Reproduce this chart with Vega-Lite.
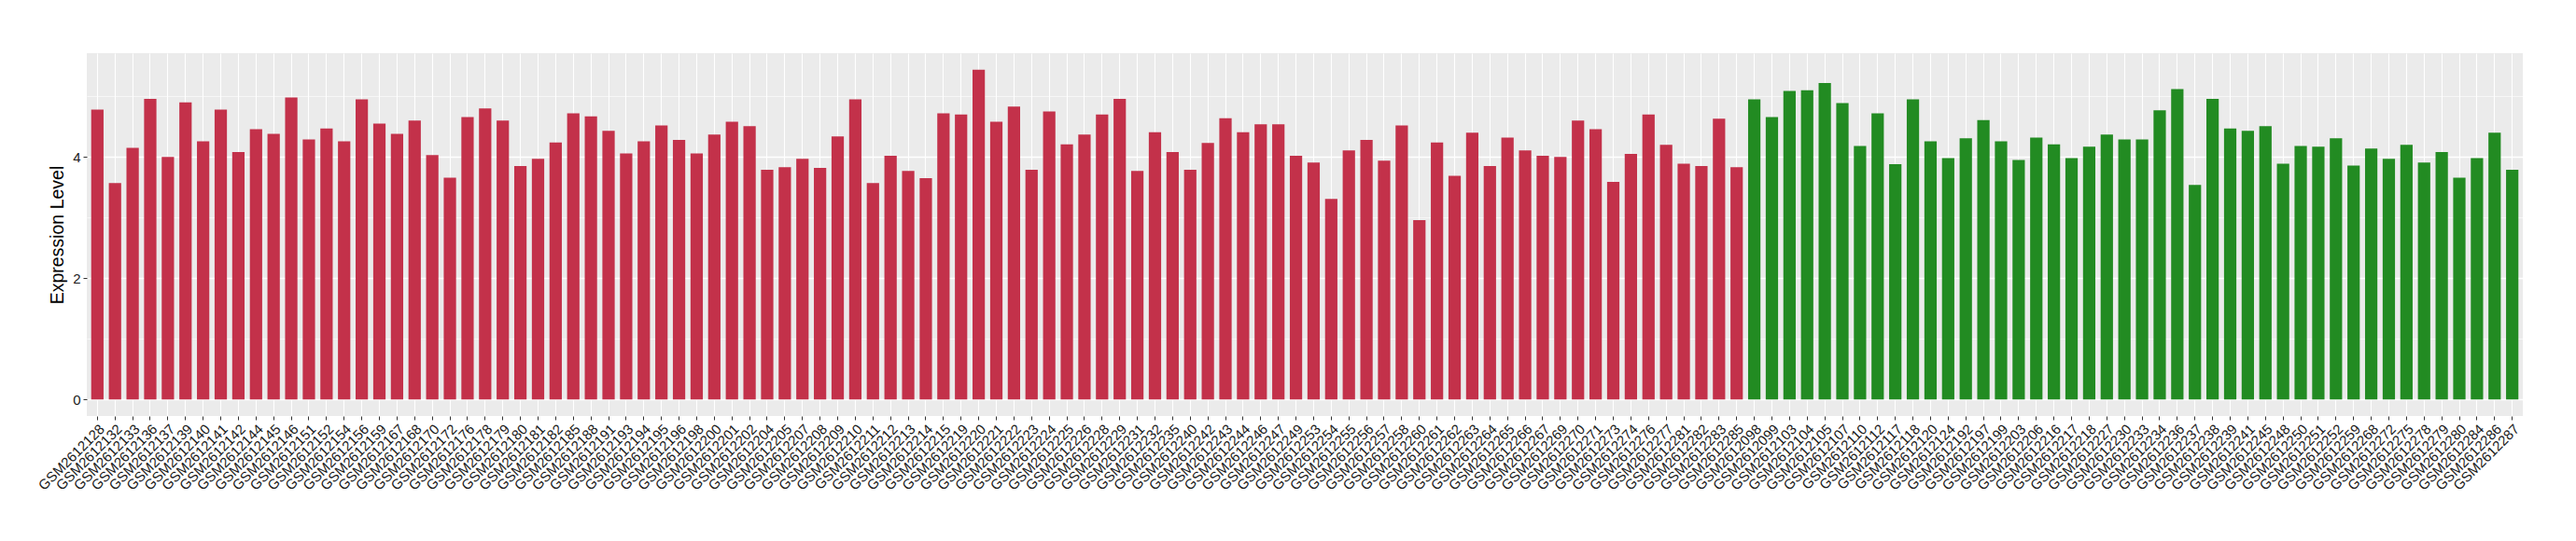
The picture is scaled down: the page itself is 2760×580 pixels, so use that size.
{
  "$schema": "https://vega.github.io/schema/vega-lite/v6.json",
  "autosize": "none",
  "width": 2610,
  "height": 389,
  "padding": {"left": 93, "top": 57, "right": 57, "bottom": 134},
  "background": "white",
  "config": {
    "font": "Liberation Sans",
    "view": {"fill": "#EBEBEB", "stroke": null}
  },
  "data": {
    "values": [
      {"sample": "GSM2612128", "value": 4.78, "group": "A"},
      {"sample": "GSM2612132", "value": 3.57, "group": "A"},
      {"sample": "GSM2612133", "value": 4.15, "group": "A"},
      {"sample": "GSM2612136", "value": 4.96, "group": "A"},
      {"sample": "GSM2612137", "value": 4.00, "group": "A"},
      {"sample": "GSM2612139", "value": 4.90, "group": "A"},
      {"sample": "GSM2612140", "value": 4.26, "group": "A"},
      {"sample": "GSM2612141", "value": 4.78, "group": "A"},
      {"sample": "GSM2612142", "value": 4.08, "group": "A"},
      {"sample": "GSM2612144", "value": 4.46, "group": "A"},
      {"sample": "GSM2612145", "value": 4.38, "group": "A"},
      {"sample": "GSM2612146", "value": 4.98, "group": "A"},
      {"sample": "GSM2612151", "value": 4.29, "group": "A"},
      {"sample": "GSM2612152", "value": 4.47, "group": "A"},
      {"sample": "GSM2612154", "value": 4.26, "group": "A"},
      {"sample": "GSM2612156", "value": 4.95, "group": "A"},
      {"sample": "GSM2612159", "value": 4.55, "group": "A"},
      {"sample": "GSM2612167", "value": 4.38, "group": "A"},
      {"sample": "GSM2612168", "value": 4.60, "group": "A"},
      {"sample": "GSM2612170", "value": 4.03, "group": "A"},
      {"sample": "GSM2612172", "value": 3.66, "group": "A"},
      {"sample": "GSM2612176", "value": 4.66, "group": "A"},
      {"sample": "GSM2612178", "value": 4.80, "group": "A"},
      {"sample": "GSM2612179", "value": 4.60, "group": "A"},
      {"sample": "GSM2612180", "value": 3.85, "group": "A"},
      {"sample": "GSM2612181", "value": 3.97, "group": "A"},
      {"sample": "GSM2612182", "value": 4.24, "group": "A"},
      {"sample": "GSM2612185", "value": 4.72, "group": "A"},
      {"sample": "GSM2612188", "value": 4.67, "group": "A"},
      {"sample": "GSM2612191", "value": 4.43, "group": "A"},
      {"sample": "GSM2612193", "value": 4.06, "group": "A"},
      {"sample": "GSM2612194", "value": 4.26, "group": "A"},
      {"sample": "GSM2612195", "value": 4.52, "group": "A"},
      {"sample": "GSM2612196", "value": 4.28, "group": "A"},
      {"sample": "GSM2612198", "value": 4.06, "group": "A"},
      {"sample": "GSM2612200", "value": 4.37, "group": "A"},
      {"sample": "GSM2612201", "value": 4.58, "group": "A"},
      {"sample": "GSM2612202", "value": 4.51, "group": "A"},
      {"sample": "GSM2612204", "value": 3.79, "group": "A"},
      {"sample": "GSM2612205", "value": 3.83, "group": "A"},
      {"sample": "GSM2612207", "value": 3.97, "group": "A"},
      {"sample": "GSM2612208", "value": 3.82, "group": "A"},
      {"sample": "GSM2612209", "value": 4.34, "group": "A"},
      {"sample": "GSM2612210", "value": 4.95, "group": "A"},
      {"sample": "GSM2612211", "value": 3.57, "group": "A"},
      {"sample": "GSM2612212", "value": 4.02, "group": "A"},
      {"sample": "GSM2612213", "value": 3.77, "group": "A"},
      {"sample": "GSM2612214", "value": 3.65, "group": "A"},
      {"sample": "GSM2612215", "value": 4.72, "group": "A"},
      {"sample": "GSM2612219", "value": 4.70, "group": "A"},
      {"sample": "GSM2612220", "value": 5.44, "group": "A"},
      {"sample": "GSM2612221", "value": 4.58, "group": "A"},
      {"sample": "GSM2612222", "value": 4.83, "group": "A"},
      {"sample": "GSM2612223", "value": 3.79, "group": "A"},
      {"sample": "GSM2612224", "value": 4.75, "group": "A"},
      {"sample": "GSM2612225", "value": 4.21, "group": "A"},
      {"sample": "GSM2612226", "value": 4.37, "group": "A"},
      {"sample": "GSM2612228", "value": 4.70, "group": "A"},
      {"sample": "GSM2612229", "value": 4.96, "group": "A"},
      {"sample": "GSM2612231", "value": 3.77, "group": "A"},
      {"sample": "GSM2612232", "value": 4.41, "group": "A"},
      {"sample": "GSM2612235", "value": 4.08, "group": "A"},
      {"sample": "GSM2612240", "value": 3.79, "group": "A"},
      {"sample": "GSM2612242", "value": 4.23, "group": "A"},
      {"sample": "GSM2612243", "value": 4.64, "group": "A"},
      {"sample": "GSM2612244", "value": 4.41, "group": "A"},
      {"sample": "GSM2612246", "value": 4.54, "group": "A"},
      {"sample": "GSM2612247", "value": 4.54, "group": "A"},
      {"sample": "GSM2612249", "value": 4.02, "group": "A"},
      {"sample": "GSM2612253", "value": 3.91, "group": "A"},
      {"sample": "GSM2612254", "value": 3.31, "group": "A"},
      {"sample": "GSM2612255", "value": 4.11, "group": "A"},
      {"sample": "GSM2612256", "value": 4.28, "group": "A"},
      {"sample": "GSM2612257", "value": 3.94, "group": "A"},
      {"sample": "GSM2612258", "value": 4.52, "group": "A"},
      {"sample": "GSM2612260", "value": 2.96, "group": "A"},
      {"sample": "GSM2612261", "value": 4.24, "group": "A"},
      {"sample": "GSM2612262", "value": 3.69, "group": "A"},
      {"sample": "GSM2612263", "value": 4.40, "group": "A"},
      {"sample": "GSM2612264", "value": 3.85, "group": "A"},
      {"sample": "GSM2612265", "value": 4.32, "group": "A"},
      {"sample": "GSM2612266", "value": 4.11, "group": "A"},
      {"sample": "GSM2612267", "value": 4.02, "group": "A"},
      {"sample": "GSM2612269", "value": 4.00, "group": "A"},
      {"sample": "GSM2612270", "value": 4.60, "group": "A"},
      {"sample": "GSM2612271", "value": 4.46, "group": "A"},
      {"sample": "GSM2612273", "value": 3.59, "group": "A"},
      {"sample": "GSM2612274", "value": 4.05, "group": "A"},
      {"sample": "GSM2612276", "value": 4.70, "group": "A"},
      {"sample": "GSM2612277", "value": 4.20, "group": "A"},
      {"sample": "GSM2612281", "value": 3.89, "group": "A"},
      {"sample": "GSM2612282", "value": 3.85, "group": "A"},
      {"sample": "GSM2612283", "value": 4.63, "group": "A"},
      {"sample": "GSM2612285", "value": 3.83, "group": "A"},
      {"sample": "GSM2612098", "value": 4.95, "group": "B"},
      {"sample": "GSM2612099", "value": 4.66, "group": "B"},
      {"sample": "GSM2612103", "value": 5.09, "group": "B"},
      {"sample": "GSM2612104", "value": 5.10, "group": "B"},
      {"sample": "GSM2612105", "value": 5.22, "group": "B"},
      {"sample": "GSM2612107", "value": 4.89, "group": "B"},
      {"sample": "GSM2612110", "value": 4.18, "group": "B"},
      {"sample": "GSM2612112", "value": 4.72, "group": "B"},
      {"sample": "GSM2612117", "value": 3.88, "group": "B"},
      {"sample": "GSM2612118", "value": 4.95, "group": "B"},
      {"sample": "GSM2612120", "value": 4.26, "group": "B"},
      {"sample": "GSM2612124", "value": 3.98, "group": "B"},
      {"sample": "GSM2612192", "value": 4.31, "group": "B"},
      {"sample": "GSM2612197", "value": 4.61, "group": "B"},
      {"sample": "GSM2612199", "value": 4.26, "group": "B"},
      {"sample": "GSM2612203", "value": 3.95, "group": "B"},
      {"sample": "GSM2612206", "value": 4.32, "group": "B"},
      {"sample": "GSM2612216", "value": 4.21, "group": "B"},
      {"sample": "GSM2612217", "value": 3.98, "group": "B"},
      {"sample": "GSM2612218", "value": 4.17, "group": "B"},
      {"sample": "GSM2612227", "value": 4.37, "group": "B"},
      {"sample": "GSM2612230", "value": 4.29, "group": "B"},
      {"sample": "GSM2612233", "value": 4.29, "group": "B"},
      {"sample": "GSM2612234", "value": 4.77, "group": "B"},
      {"sample": "GSM2612236", "value": 5.12, "group": "B"},
      {"sample": "GSM2612237", "value": 3.54, "group": "B"},
      {"sample": "GSM2612238", "value": 4.96, "group": "B"},
      {"sample": "GSM2612239", "value": 4.47, "group": "B"},
      {"sample": "GSM2612241", "value": 4.43, "group": "B"},
      {"sample": "GSM2612245", "value": 4.51, "group": "B"},
      {"sample": "GSM2612248", "value": 3.89, "group": "B"},
      {"sample": "GSM2612250", "value": 4.18, "group": "B"},
      {"sample": "GSM2612251", "value": 4.17, "group": "B"},
      {"sample": "GSM2612252", "value": 4.31, "group": "B"},
      {"sample": "GSM2612259", "value": 3.86, "group": "B"},
      {"sample": "GSM2612268", "value": 4.14, "group": "B"},
      {"sample": "GSM2612272", "value": 3.97, "group": "B"},
      {"sample": "GSM2612275", "value": 4.20, "group": "B"},
      {"sample": "GSM2612278", "value": 3.91, "group": "B"},
      {"sample": "GSM2612279", "value": 4.08, "group": "B"},
      {"sample": "GSM2612280", "value": 3.66, "group": "B"},
      {"sample": "GSM2612284", "value": 3.98, "group": "B"},
      {"sample": "GSM2612286", "value": 4.40, "group": "B"},
      {"sample": "GSM2612287", "value": 3.79, "group": "B"}
    ]
  },
  "mark": {"type": "bar"},
  "encoding": {
    "x": {
      "field": "sample",
      "type": "nominal",
      "sort": null,
      "scale": {"paddingInner": 0.3, "paddingOuter": 0.25},
      "axis": {
        "title": null,
        "bandPosition": 0.5,
        "domain": false,
        "grid": true,
        "gridColor": "white",
        "gridWidth": 1.1,
        "ticks": true,
        "tickSize": 4,
        "tickColor": "#333333",
        "tickWidth": 1,
        "labelAngle": -45,
        "labelAlign": "right",
        "labelBaseline": "top",
        "labelFontSize": 15,
        "labelColor": "#1a1a1a",
        "labelPadding": 2,
        "labelOverlap": false,
        "labelFlush": false
      }
    },
    "y": {
      "field": "value",
      "type": "quantitative",
      "scale": {"domain": [-0.272, 5.712], "nice": false, "zero": false},
      "axis": {
        "title": "Expression Level",
        "titleFontSize": 19.5,
        "titleFontWeight": "normal",
        "titleColor": "black",
        "titlePadding": 6,
        "values": [0, 1, 2, 3, 4, 5],
        "labelExpr": "datum.value % 2 === 0 ? datum.label : ''",
        "domain": false,
        "grid": true,
        "gridColor": "white",
        "gridWidth": {"condition": {"test": "datum.value % 2 === 0", "value": 1.3}, "value": 0.6},
        "tickSize": 4,
        "tickColor": "#333333",
        "tickWidth": 1,
        "tickOpacity": {"condition": {"test": "datum.value % 2 === 0", "value": 1}, "value": 0},
        "labelFontSize": 15,
        "labelColor": "#1a1a1a",
        "labelPadding": 3
      }
    },
    "y2": {"datum": 0},
    "color": {
      "field": "group",
      "type": "nominal",
      "scale": {"domain": ["A", "B"], "range": ["#C3314A", "#228B22"]},
      "legend": null
    }
  }
}
